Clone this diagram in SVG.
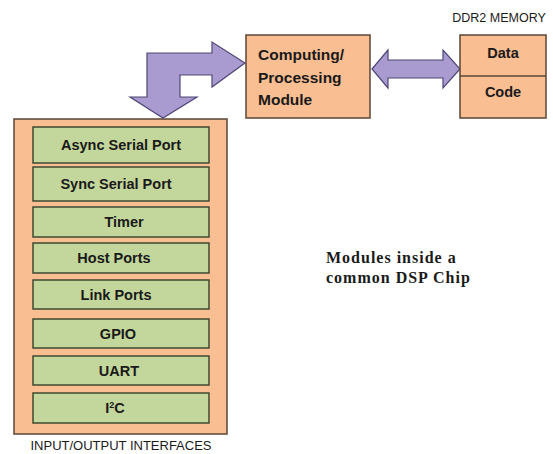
<svg xmlns="http://www.w3.org/2000/svg" width="553" height="454" viewBox="0 0 553 454">
<style>
.box{fill:#F9BE92;stroke:#5a4636;stroke-width:1.5}
.g{fill:#C3D69B;stroke:#3f4a30;stroke-width:1.5}
.arr{fill:#A99BCF;stroke:#4f4677;stroke-width:1.2;stroke-linejoin:miter}
.t{font-family:"Liberation Sans",Arial,sans-serif;font-weight:bold;font-size:14.5px;fill:#1a1a1a}
.c{text-anchor:middle}
.lab{font-family:"Liberation Sans",Arial,sans-serif;font-size:12.5px;fill:#1a1a1a;text-anchor:middle}
.s{font-family:"Liberation Serif","Times New Roman",serif;font-weight:bold;font-size:16px;letter-spacing:1px;fill:#1a1a1a}
</style>
<rect width="553" height="454" fill="#ffffff"/>
<g id="connectors">
<polygon class="arr" points="147,53 212,53 212,42 245,63 212,87 212,75 180,75 180,97 197,97 163,118 130,97 147,97"/>
<polygon class="arr" points="372,69 388,50 388,60 443,60 443,50 460,69 443,88 443,78 388,78 388,88"/>
</g>
<g id="compute">
<rect class="box" x="246" y="35" width="124" height="83"/>
<text class="t" style="font-size:15.5px" x="258" y="60">Computing/</text>
<text class="t" style="font-size:15.5px" x="258" y="83">Processing</text>
<text class="t" style="font-size:15.5px" x="258" y="105">Module</text>
</g>
<g id="memory">
<text class="lab" x="499" y="22">DDR2  MEMORY</text>
<rect class="box" x="460" y="35" width="86" height="83"/>
<line x1="460" y1="76" x2="546" y2="76" stroke="#5a4636" stroke-width="1.5"/>
<text class="t c" x="503" y="58">Data</text>
<text class="t c" x="503" y="97">Code</text>
</g>
<g id="io">
<rect class="box" x="14" y="119" width="213" height="315"/>
<g id="async"><rect class="g" x="33" y="127" width="176" height="36"/><text class="t c" x="121" y="150">Async Serial Port</text></g>
<g id="sync"><rect class="g" x="33" y="167" width="176" height="34"/><text class="t c" x="116" y="189">Sync Serial Port</text></g>
<g id="timer"><rect class="g" x="33" y="207" width="176" height="30"/><text class="t c" x="124" y="227">Timer</text></g>
<g id="host"><rect class="g" x="33" y="243" width="176" height="30"/><text class="t c" x="114" y="263">Host Ports</text></g>
<g id="link"><rect class="g" x="33" y="280" width="176" height="29"/><text class="t c" x="116" y="300">Link Ports</text></g>
<g id="gpio"><rect class="g" x="33" y="319" width="176" height="29"/><text class="t c" x="118" y="339">GPIO</text></g>
<g id="uart"><rect class="g" x="33" y="356" width="176" height="29"/><text class="t c" x="119" y="376">UART</text></g>
<g id="i2c"><rect class="g" x="33" y="393" width="176" height="30"/><text class="t c" x="115" y="413">I<tspan dy="-5" font-size="9px">2</tspan><tspan dy="5">C</tspan></text></g>
<text class="lab" style="font-size:13px" x="121" y="450">INPUT/OUTPUT INTERFACES</text>
</g>
<g id="note">
<text class="s" x="326" y="263">Modules inside a</text>
<text class="s" x="326" y="283">common DSP Chip</text>
</g>
</svg>
